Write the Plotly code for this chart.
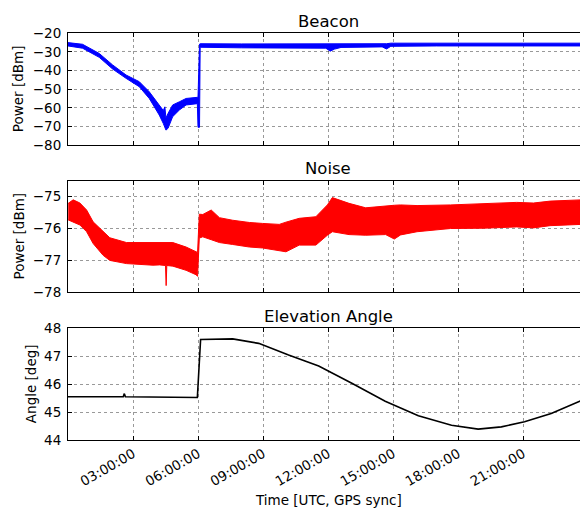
import plotly.graph_objects as go
import pandas as pd

# ---------------- data (hours after 00:00 UTC) ----------------
beacon_hours = [0.00, 0.67, 1.44, 2.06, 2.68, 3.29, 3.75, 4.21, 4.40, 4.47, 4.52, 4.62, 4.83, 5.14,
                5.45, 5.97, 6.00, 6.07, 6.10, 8.0, 10.0, 11.9, 12.1, 12.3, 12.6, 14.5, 14.7,
                14.9, 17.0, 20.0, 23.7]
beacon_upper = [-25.0, -25.9, -30.8, -37.0, -42.4, -46.0, -51.4, -58.5, -61.5, -59.5, -65.5, -63.0, -58.5, -56.8,
                -55.0, -54.4, -54.4, -25.8, -25.6, -25.7, -25.7, -25.8, -25.6, -25.8, -25.5, -25.4, -25.6,
                -25.3, -25.3, -25.3, -25.3]
beacon_lower = [-26.8, -28.0, -32.9, -39.2, -44.2, -48.7, -55.0, -63.9, -68.5, -70.5, -72.0, -71.0, -64.8, -61.2,
                -58.5, -57.8, -70.5, -70.5, -27.5, -27.8, -27.8, -28.0, -29.6, -28.5, -27.6, -27.3, -28.4,
                -27.0, -26.8, -26.8, -26.8]

noise_hours = [0.01, 0.24, 0.55, 0.86, 1.16, 1.62, 1.93, 2.70, 3.62, 3.92, 4.23, 4.50, 4.53, 4.56,
               4.84, 5.45, 5.91, 5.98, 6.06, 6.22, 6.61, 6.99, 7.60, 8.37, 8.98, 9.75, 10.06, 10.67,
               11.44, 11.97, 12.20, 12.97, 13.74, 14.66, 15.06, 15.35, 16.11, 17.65, 19.18, 20.71,
               21.48, 22.25, 23.70]
noise_upper = [-75.21, -75.10, -75.20, -75.42, -75.79, -76.10, -76.29, -76.44, -76.45, -76.43, -76.45, -76.45,
               -76.45, -76.45, -76.44, -76.58, -76.73, -76.75, -75.55, -75.56, -75.42, -75.66, -75.74, -75.81,
               -75.84, -75.87, -75.80, -75.68, -75.63, -75.26, -75.03, -75.21, -75.35, -75.28, -75.27, -75.26,
               -75.28, -75.26, -75.22, -75.18, -75.20, -75.14, -75.10]
noise_lower = [-75.73, -75.80, -75.89, -76.10, -76.47, -76.84, -77.00, -77.10, -77.15, -77.15, -77.14, -77.16,
               -77.79, -77.16, -77.18, -77.31, -77.45, -77.50, -76.30, -76.26, -76.35, -76.44, -76.50, -76.58,
               -76.61, -76.68, -76.73, -76.52, -76.52, -76.21, -76.10, -76.19, -76.21, -76.19, -76.33, -76.20,
               -76.10, -76.00, -75.99, -75.95, -75.98, -75.91, -75.87]

elev_hours = [0.00, 2.55, 2.60, 2.65, 5.97, 6.12, 7.60, 8.80, 10.18, 11.57, 13.10, 14.64, 16.17, 17.70,
              18.93, 20.00, 21.07, 22.30, 23.70]
elev_deg = [45.55, 45.55, 45.66, 45.55, 45.52, 47.60, 47.62, 47.46, 47.04, 46.65, 46.03, 45.39, 44.87, 44.53,
            44.39, 44.47, 44.65, 44.95, 45.42]

titles = ["Beacon", "Noise", "Elevation Angle"]
y_labels = ["Power [dBm]", "Power [dBm]", "Angle [deg]"]
x_label = "Time [UTC, GPS sync]"
x_tick_hours = [3, 6, 9, 12, 15, 18, 21]
y_ranges = [[-80, -20], [-78, -74.5], [44, 48]]
y_dticks = [10, 1, 1]
x_range_hours = [0, 23.63]

# ---------------- helpers ----------------
base = pd.Timestamp("2016-01-01 00:00:00")


def to_time(hours):
    return [base + pd.Timedelta(hours=h) for h in hours]


W, H = 580, 510
FONT = "DejaVu Sans"
x0 = 68 / W
panels_px = [(33.3, 145.0), (180.7, 292.3), (328.3, 440.0)]
domains = [[1 - b / H, 1 - t / H] for (t, b) in panels_px]

fig = go.Figure()

# Beacon band
fig.add_trace(go.Scatter(x=to_time(beacon_hours), y=beacon_lower, mode="lines",
                         line=dict(color="#0000ff", width=1), xaxis="x", yaxis="y",
                         showlegend=False, hoverinfo="skip"))
fig.add_trace(go.Scatter(x=to_time(beacon_hours), y=beacon_upper, mode="lines",
                         line=dict(color="#0000ff", width=1), fill="tonexty", fillcolor="#0000ff",
                         xaxis="x", yaxis="y", showlegend=False))
# Noise band
fig.add_trace(go.Scatter(x=to_time(noise_hours), y=noise_lower, mode="lines",
                         line=dict(color="#ff0000", width=1), xaxis="x2", yaxis="y2",
                         showlegend=False, hoverinfo="skip"))
fig.add_trace(go.Scatter(x=to_time(noise_hours), y=noise_upper, mode="lines",
                         line=dict(color="#ff0000", width=1), fill="tonexty", fillcolor="#ff0000",
                         xaxis="x2", yaxis="y2", showlegend=False))
# Elevation
fig.add_trace(go.Scatter(x=to_time(elev_hours), y=elev_deg, mode="lines",
                         line=dict(color="#000000", width=1.6), xaxis="x3", yaxis="y3",
                         showlegend=False))

grid = dict(showgrid=True, gridcolor="rgba(0,0,0,0.4)", gridwidth=1, griddash="dot")
tickvals = to_time(x_tick_hours)
xr = to_time(x_range_hours)

layout = dict(width=W, height=H, margin=dict(l=0, r=0, t=0, b=0),
              paper_bgcolor="white", plot_bgcolor="white",
              font=dict(family=FONT, size=13.5, color="black"))

for i in range(3):
    sfx = "" if i == 0 else str(i + 1)
    layout["xaxis" + sfx] = dict(
        type="date", domain=[x0, 1], range=xr, anchor="y" + sfx,
        tickvals=tickvals, tickformat="%H:%M:%S", showticklabels=(i == 2),
        tickangle=-30, ticks="inside", ticklen=4, tickcolor="black",
        showline=True, linecolor="black", linewidth=1, mirror="ticks",
        zeroline=False, automargin=False, tickfont=dict(size=13.5), **grid)
    layout["yaxis" + sfx] = dict(
        domain=domains[i], range=y_ranges[i], dtick=y_dticks[i], tick0=0,
        anchor="x" + sfx, ticks="inside", ticklen=4, tickcolor="black",
        showline=True, linecolor="black", linewidth=1, mirror=False,
        zeroline=False, automargin=False, ticklabelstandoff=3,
        tickfont=dict(size=13.5), **grid)

fig.update_layout(**layout)

annotations = []
title_y_px = [22, 169, 316]
label_x_px = [18, 18, 31]
for i in range(3):
    annotations.append(dict(text=titles[i], xref="paper", yref="paper", x=328 / W,
                            y=1 - title_y_px[i] / H, xanchor="center", yanchor="middle",
                            showarrow=False, font=dict(size=16.5, family=FONT)))
    t, b = panels_px[i]
    annotations.append(dict(text=y_labels[i], xref="paper", yref="paper", x=label_x_px[i] / W,
                            y=1 - (t + b) / 2 / H, xanchor="center", yanchor="middle",
                            textangle=-90, showarrow=False, font=dict(size=13.5, family=FONT)))
annotations.append(dict(text=x_label, xref="paper", yref="paper", x=328 / W, y=1 - 500 / H,
                        xanchor="center", yanchor="middle", showarrow=False,
                        font=dict(size=13.5, family=FONT)))
fig.update_layout(annotations=annotations)

fig.write_html(
    "out.html",
    config={"displayModeBar": False},
    post_script="document.body.style.margin='0';document.body.style.overflow='hidden';"
                "document.documentElement.style.overflow='hidden';",
)
